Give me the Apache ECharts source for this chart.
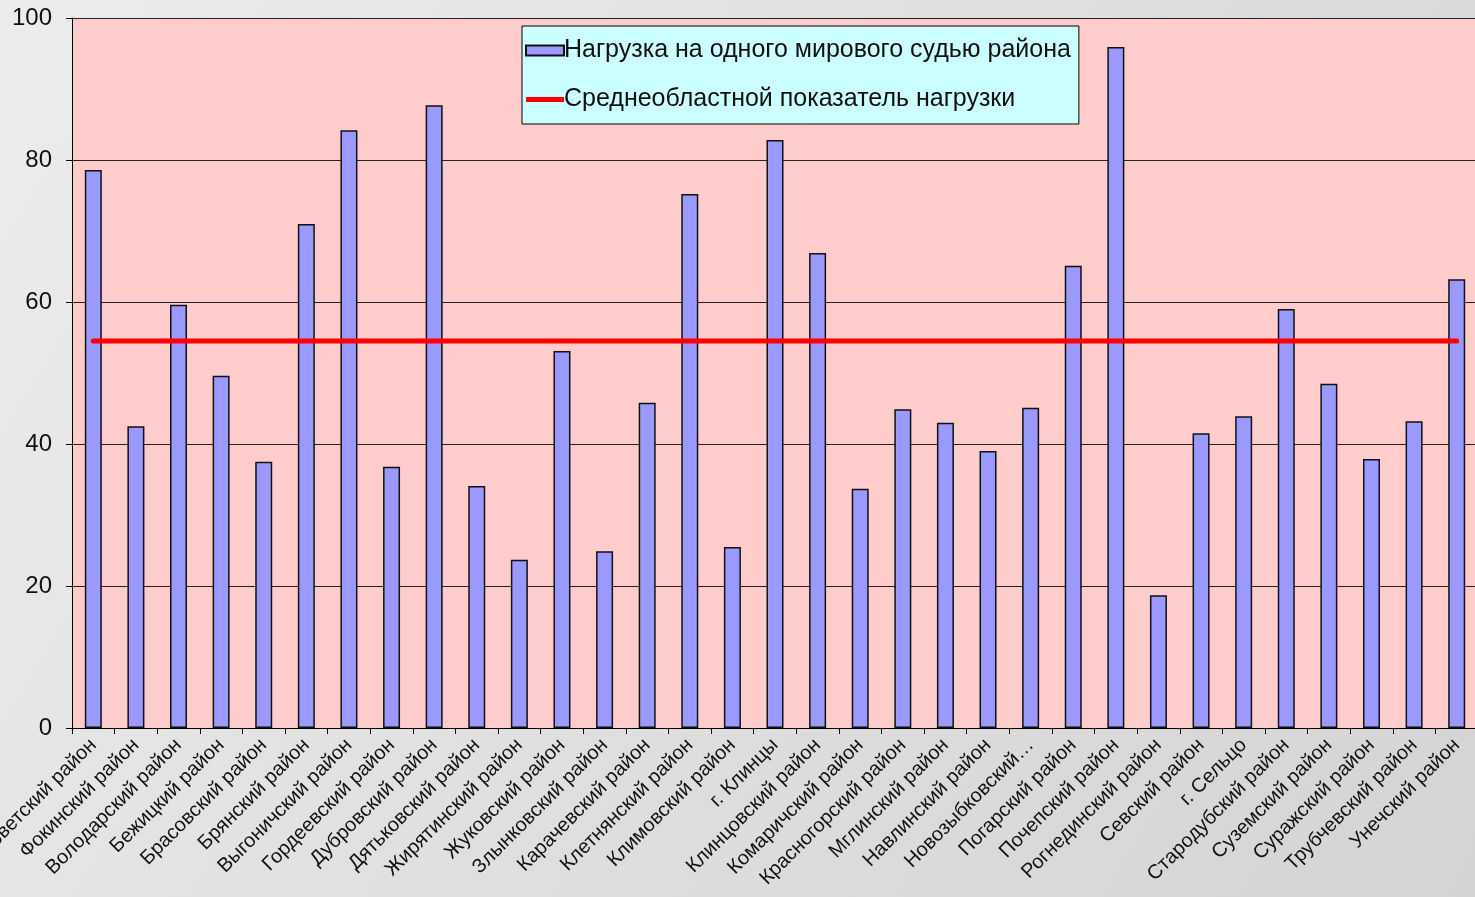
<!DOCTYPE html>
<html>
<head>
<meta charset="utf-8">
<script src="https://cdn.jsdelivr.net/npm/echarts@6/dist/echarts.min.js"></script>
<style>
    html, body { margin: 0; padding: 0; }
    #chart { width: 1475px; height: 897px; }
</style>
</head>
<body>
<div id="chart"></div>
<script>
// Районы (категории оси X)
const districts = [
    'Советский район', 'Фокинский район', 'Володарский район', 'Бежицкий район',
    'Брасовский район', 'Брянский район', 'Выгоничский район', 'Гордеевский район',
    'Дубровский район', 'Дятьковский район', 'Жирятинский район', 'Жуковский район',
    'Злынковский район', 'Карачевский район', 'Клетнянский район', 'Климовский район',
    'г. Клинцы', 'Клинцовский район', 'Комаричский район', 'Красногорский район',
    'Мглинский район', 'Навлинский район', 'Новозыбковский…', 'Погарский район',
    'Почепский район', 'Рогнединский район', 'Севский район', 'г. Сельцо',
    'Стародубский район', 'Суземский район', 'Суражский район', 'Трубчевский район',
    'Унечский район'
];

// Нагрузка на одного мирового судью
const judgeLoad = [
    78.6, 42.5, 59.6, 49.6, 37.5, 71.0, 84.2, 36.8, 87.7, 34.1, 23.7,
    53.1, 24.9, 45.8, 75.2, 25.5, 82.8, 66.9, 33.7, 44.9, 43.0, 39.0,
    45.1, 65.1, 95.9, 18.7, 41.5, 43.9, 59.0, 48.5, 37.9, 43.2, 63.2
];

// Среднеобластной показатель
const regionAverage = 54.5;

const yTicks = { min: 0, max: 100, interval: 20 };

const chart = echarts.init(document.getElementById('chart'));

const option = {
    backgroundColor: new echarts.graphic.LinearGradient(0, 0, 1, 1, [
        { offset: 0, color: '#ececec' },
        { offset: 0.5, color: '#dfdfdf' },
        { offset: 1, color: '#d4d4d4' }
    ]),
    textStyle: { fontFamily: 'Liberation Sans, Arial, sans-serif' },
    animation: false,
    grid: {
        left: 72,
        right: -3,
        top: 18,
        bottom: 169,
        containLabel: false,
        outerBoundsMode: 'none',
        show: true,
        backgroundColor: '#ffcccc',
        borderWidth: 0
    },
    legend: {
        orient: 'vertical',
        left: 522,
        top: 26,
        padding: [12, 8, 12, 3],
        itemGap: 24,
        itemWidth: 38,
        itemHeight: 10,
        backgroundColor: '#ccffff',
        borderColor: '#000',
        borderWidth: 1,
        textStyle: { fontSize: 25, color: '#111', padding: [0, 0, 0, -5] },
        data: [
            { name: 'Нагрузка на одного мирового судью района', icon: 'rect' },
            {
                name: 'Среднеобластной показатель нагрузки',
                icon: 'path://M0,0 L38,0 L38,5 L0,5 Z',
                itemStyle: { color: '#ff0000', borderWidth: 0 }
            }
        ]
    },
    xAxis: {
        type: 'category',
        data: districts,
        axisLine: { lineStyle: { color: '#000', width: 1 } },
        axisTick: { show: true, length: 6, lineStyle: { color: '#000' } },
        axisLabel: {
            interval: 0,
            rotate: 45,
            margin: 14,
            fontSize: 20,
            color: '#111'
        }
    },
    yAxis: {
        type: 'value',
        min: yTicks.min,
        max: yTicks.max,
        interval: yTicks.interval,
        axisLine: { show: true, lineStyle: { color: '#000', width: 1 } },
        axisTick: { show: true, length: 6, lineStyle: { color: '#000' } },
        axisLabel: { fontSize: 24, color: '#111', margin: 20 },
        splitLine: { lineStyle: { color: '#222', width: 1 } }
    },
    series: [
        {
            name: 'Нагрузка на одного мирового судью района',
            type: 'bar',
            data: judgeLoad,
            barWidth: 17,
            itemStyle: {
                color: '#9999ff',
                borderColor: '#111',
                borderWidth: 1.5
            }
        },
        {
            name: 'Среднеобластной показатель нагрузки',
            type: 'line',
            data: districts.map(() => regionAverage),
            symbol: 'none',
            showSymbol: false,
            z: 5,
            lineStyle: { color: '#ff0000', width: 5, cap: 'round' },
            itemStyle: { color: '#ff0000' }
        }
    ]
};

chart.setOption(option);
</script>
</body>
</html>
